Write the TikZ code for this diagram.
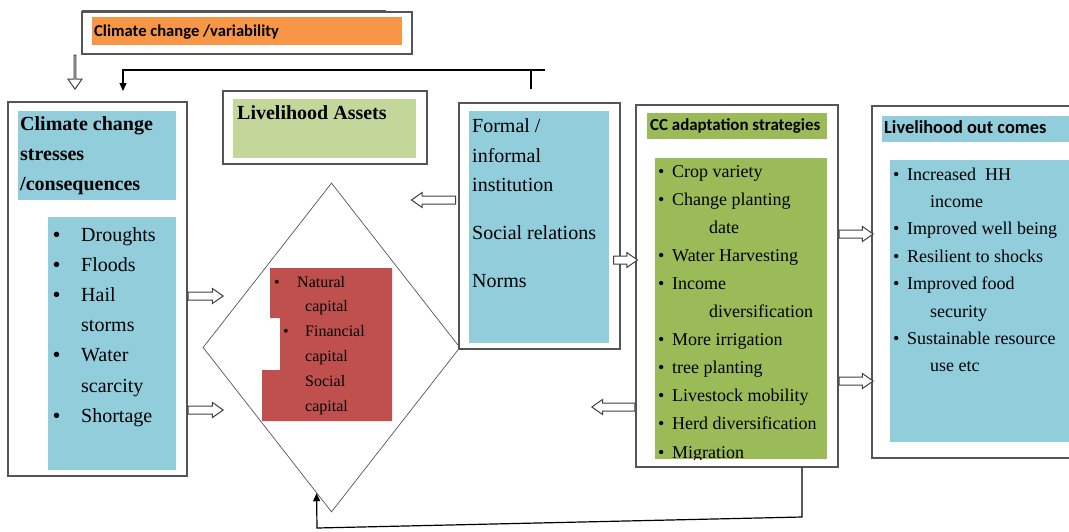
\documentclass[tikz,border=0pt]{standalone}
\usepackage{fontspec}
\setmainfont{Liberation Serif}
\newfontfamily\calib{Carlito}
\usetikzlibrary{shapes.geometric,shapes.arrows,arrows.meta,calc}
\definecolor{cyanf}{RGB}{146,205,220}
\definecolor{oliveg}{RGB}{155,187,89}
\definecolor{lightg}{RGB}{196,215,155}
\definecolor{orangef}{RGB}{247,150,70}
\definecolor{redf}{RGB}{192,80,77}
\definecolor{edgec}{RGB}{85,85,85}
\begin{document}
\begin{tikzpicture}[x=1pt,y=-1pt,
  outerbox/.style={rectangle, draw=edgec, line width=1.3pt, fill=white, inner sep=0pt},
  fillbox/.style={rectangle, draw=none, inner sep=0pt},
  harrow/.style={single arrow, draw=black!75, line width=1pt, fill=white, inner sep=0pt,
    text height=7pt, text depth=0pt, minimum width=14pt, single arrow head extend=3.5pt, single arrow tip angle=70},
  fbline/.style={draw=black, line width=1.2pt},
  tipend/.style={-{Triangle[length=8pt,width=7pt]}},
  tb/.style={anchor=base west, inner sep=0pt, font=\fontsize{20}{24}\selectfont\bfseries},
  tr/.style={anchor=base west, inner sep=0pt, font=\fontsize{20}{24}\selectfont},
  tm/.style={anchor=base west, inner sep=0pt, font=\fontsize{18}{22}\selectfont},
  ts/.style={anchor=base west, inner sep=0pt, font=\fontsize{16}{19}\selectfont},
  hs/.style={anchor=base west, inner sep=0pt, font=\calib\bfseries\fontsize{16.9}{20}\selectfont},
  hl/.style={anchor=base west, inner sep=0pt, font=\calib\bfseries\fontsize{18.4}{22}\selectfont}
]
\useasboundingbox (0,0) rectangle (1069,531);

% ---------- Climate change / variability ----------
\draw[draw=edgec, line width=0.8pt] (82,10) -- (386,10);
\node[outerbox, minimum width=330pt, minimum height=42pt] (clim) at (247,33) {};
\node[fillbox, fill=orangef, minimum width=310pt, minimum height=28pt] (climf) at (247,31) {};
\node[hs, font=\calib\bfseries\fontsize{16.6}{20}\selectfont] (climt) at (94,36) {Climate change /variability};

% ---------- Left box ----------
\node[outerbox, minimum width=179pt, minimum height=374pt] (lbox) at (97.5,289) {};
\node[fillbox, fill=cyanf, minimum width=158pt, minimum height=89pt] (lhead) at (97,155.5) {};
\node[fillbox, fill=cyanf, minimum width=128pt, minimum height=253pt] (llist) at (112,343.5) {};
\foreach \t [count=\i from 0] in {Climate change, stresses, /consequences}
  \node[tb] (lh\i) at (20,130+30*\i) {\t};
\foreach \t [count=\i from 0] in {Droughts, Floods, Hail, storms, Water, scarcity, Shortage}
  \node[tr] (ll\i) at (81,241+30.2*\i) {\t};
\foreach \i in {0,1,2,4,6}
  \node[tr] (lb\i) at (53,241+30.2*\i) {\textbf{•}};

% ---------- Livelihood assets ----------
\node[outerbox, minimum width=204pt, minimum height=73pt] (abox) at (325,127.5) {};
\node[fillbox, fill=lightg, minimum width=183pt, minimum height=59pt] (afill) at (324.5,128.5) {};
\node[tb] (at) at (237,119) {Livelihood Assets};

% ---------- Diamond with capitals ----------
\node[diamond, draw=edgec, line width=0.7pt, minimum width=257pt, minimum height=329pt, inner sep=0pt] (dia) at (331.5,347.5) {};
\fill[redf] (270,268) -- (392,268) -- (392,421) -- (262,421) -- (262,370) -- (280,370) -- (280,318) -- (270,318) -- cycle;
\node[ts] (rb0) at (274,287) {•};
\node[ts] (r0) at (297,287) {Natural};
\node[ts] (r1) at (305,311.8) {capital};
\node[ts] (rb2) at (283,336.6) {•};
\node[ts] (r2) at (305,336.6) {Financial};
\node[ts] (r3) at (305,361.4) {capital};
\node[ts] (r4) at (305,386.2) {Social};
\node[ts] (r5) at (305,411) {capital};

% ---------- Institutions ----------
\node[outerbox, minimum width=161pt, minimum height=246pt] (ibox) at (539.5,226) {};
\node[fillbox, fill=cyanf, minimum width=140pt, minimum height=232pt] (ifill) at (539,227) {};
\node[tr] (i0) at (472,132) {Formal /};
\node[tr] (i1) at (472,162) {informal};
\node[tr] (i2) at (472,191) {institution};
\node[tr] (i3) at (472,239) {Social relations};
\node[tr] (i4) at (472,287) {Norms};

% ---------- CC adaptation strategies ----------
\node[outerbox, minimum width=202pt, minimum height=362pt] (cbox) at (737,286) {};
\node[fillbox, fill=oliveg, minimum width=180pt, minimum height=26pt] (chead) at (737,126) {};
\node[fillbox, fill=oliveg, minimum width=172pt, minimum height=301pt] (clist) at (741,308.5) {};
\node[hs] (ct) at (650,130) {CC adaptation strategies};
\begin{scope}
  \clip (655,158) rectangle (827,459);
  \node[tm] (c0) at (672,177) {Crop variety};
  \node[tm] (c1) at (672,205.1) {Change planting};
  \node[tm] (c2) at (709,233.2) {date};
  \node[tm] (c3) at (672,261.3) {Water Harvesting};
  \node[tm] (c4) at (672,289.4) {Income};
  \node[tm] (c5) at (709,317.5) {diversification};
  \node[tm] (c6) at (672,345.6) {More irrigation};
  \node[tm] (c7) at (672,373.7) {tree planting};
  \node[tm] (c8) at (672,401.8) {Livestock mobility};
  \node[tm] (c9) at (672,429.9) {Herd diversification};
  \node[tm] (c10) at (672,458) {Migration};
  \foreach \i in {0,1,3,4,6,7,8,9,10}
    \node[tm] (cb\i) at (658,177+28.1*\i) {•};
\end{scope}

% ---------- Livelihood outcomes ----------
\node[outerbox, minimum width=203pt, minimum height=352pt] (obox) at (973.5,282) {};
\node[fillbox, fill=cyanf, minimum width=188pt, minimum height=26pt] (ohead) at (976,129) {};
\node[fillbox, fill=cyanf, minimum width=180pt, minimum height=282pt] (olist) at (980,301) {};
\node[hl] (ot) at (884,133) {Livelihood out comes};
\node[tm] (o0) at (907,180) {Increased\ \ HH};
\node[tm] (o1) at (930,207.4) {income};
\node[tm] (o2) at (907,234.8) {Improved well being};
\node[tm] (o3) at (907,262.2) {Resilient to shocks};
\node[tm] (o4) at (907,289.6) {Improved food};
\node[tm] (o5) at (930,317) {security};
\node[tm] (o6) at (907,344.4) {Sustainable resource};
\node[tm] (o7) at (930,371.8) {use etc};
\foreach \i in {0,2,3,4,6}
  \node[tm] (ob\i) at (893,180+27.4*\i) {•};

% ---------- Hollow arrows ----------
\node[harrow, shape border rotate=270, minimum height=34pt, anchor=tail] (h1) at (clim.south -| 75,0) {};
\node[harrow, minimum height=35pt, anchor=tail] (h2) at (lbox.east |- 0,296) {};
\node[harrow, minimum height=35pt, anchor=tail] (h3) at (lbox.east |- 0,410) {};
\node[harrow, shape border rotate=180, minimum height=44pt, anchor=tail] (h4) at (456,200) {};
\node[harrow, minimum height=24pt, anchor=tail] (h5) at (613,260) {};
\node[harrow, shape border rotate=180, minimum height=43pt, anchor=tail] (h6) at (cbox.west |- 0,407) {};
\node[harrow, minimum height=34pt, anchor=tail] (h7) at (cbox.east |- 0,234) {};
\node[harrow, minimum height=34pt, anchor=tail] (h8) at (cbox.east |- 0,381) {};

% ---------- Feedback lines ----------
\coordinate (topstub) at (531,89);
\coordinate (topend) at (545,70);
\coordinate (ltop) at (123,91);
\draw[fbline, tipend] (topstub) -- (531,70) -- (123,70) -- (ltop);
\draw[fbline] (531,70) -- (topend);

\coordinate (cbot) at (802,517);
\coordinate (dhit) at ($(dia.west)!0.884!(dia.south)$);
\draw[fbline, tipend] (cbox.south -| cbot) -- (cbot) -- (317,528) -- (dhit);
\end{tikzpicture}
\end{document}
